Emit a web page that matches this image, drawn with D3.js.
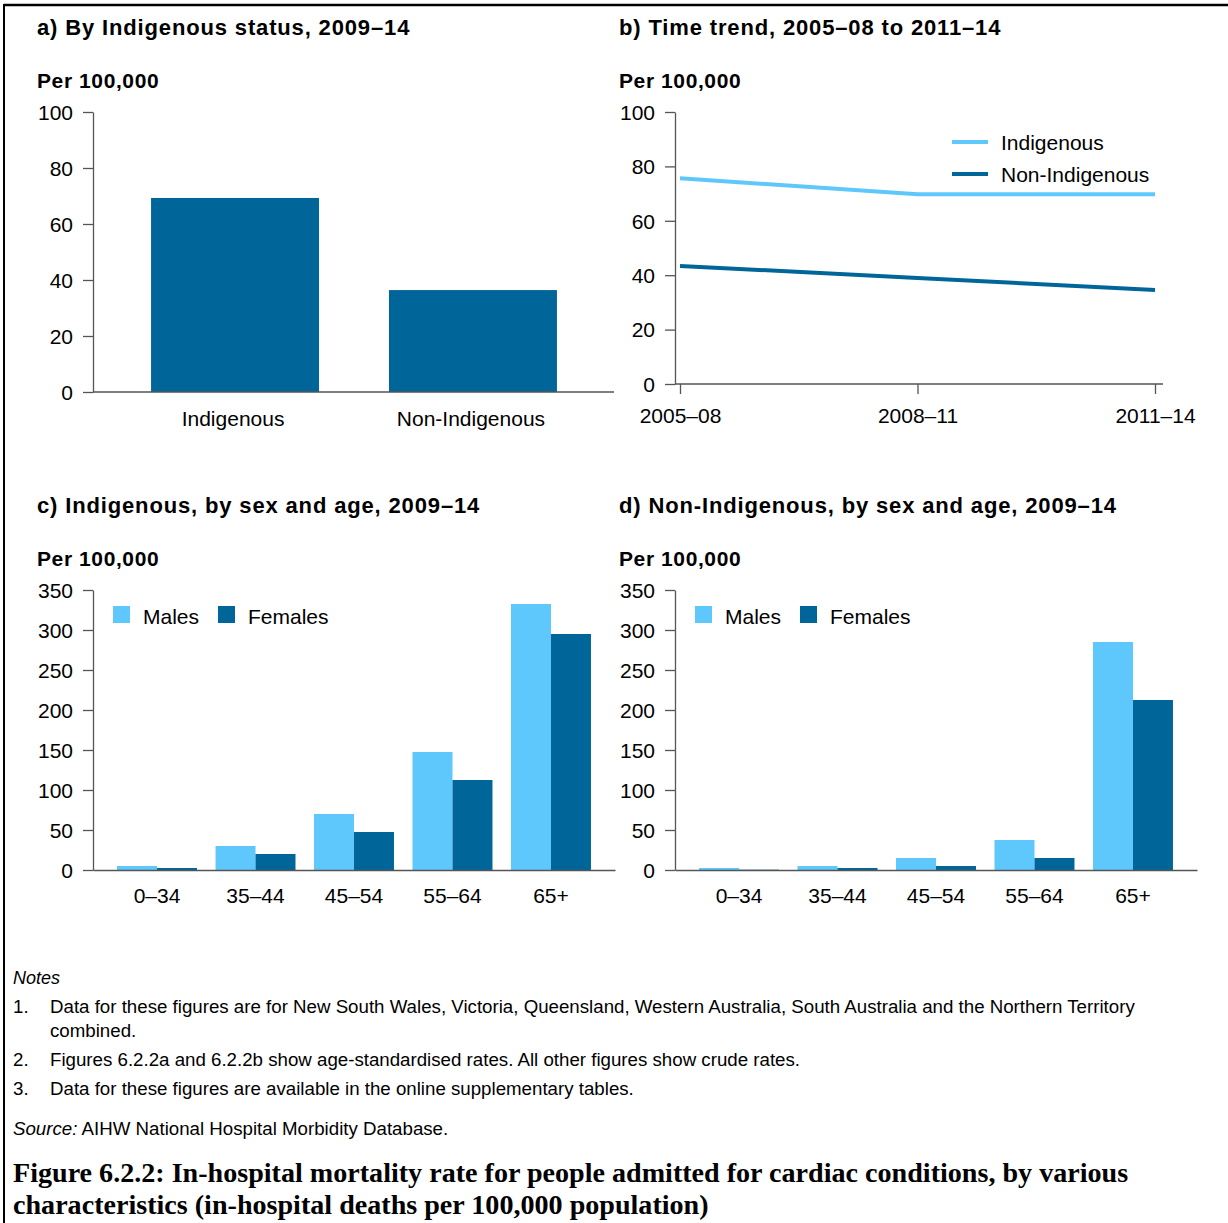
<!DOCTYPE html>
<html><head><meta charset="utf-8">
<script src="https://cdn.jsdelivr.net/npm/d3@7"></script>
<style>
body{margin:0;background:#fff;}
svg{display:block;font-family:"Liberation Sans",Arial,sans-serif;}
.tick text{font-size:21px;fill:#000;}
.domain,.tick line{stroke:#555;stroke-width:1.3;}
</style></head><body>
<svg id="c" width="1228" height="1223"></svg>
<script>
// ---- data ----
const statusCats = ["Indigenous", "Non-Indigenous"];
const statusValues = [69.3, 36.4];

const periods = ["2005–08", "2008–11", "2011–14"];
const trendIndigenous = [75.6, 69.8, 69.8];
const trendNonIndigenous = [43.4, 39.0, 34.6];

const ageGroups = ["0–34", "35–44", "45–54", "55–64", "65+"];
const sexes = ["Males", "Females"];
const indigMales = [5, 30, 70, 147.5, 332.5];
const indigFemales = [2.5, 20, 47.5, 112.5, 295];
const nonIndigMales = [2.5, 5, 15, 37.5, 285];
const nonIndigFemales = [0.4, 2.5, 5, 15, 212.5];

const ticks100 = [0, 20, 40, 60, 80, 100];
const ticks350 = [0, 50, 100, 150, 200, 250, 300, 350];

const titles = ["a) By Indigenous status, 2009–14", "b) Time trend, 2005–08 to 2011–14",
  "c) Indigenous, by sex and age, 2009–14", "d) Non-Indigenous, by sex and age, 2009–14"];
const yTitle = "Per 100,000";
const notes = [
  ["1.", "Data for these figures are for New South Wales, Victoria, Queensland, Western Australia, South Australia and the Northern Territory"],
  ["", "combined."],
  ["2.", "Figures 6.2.2a and 6.2.2b show age-standardised rates. All other figures show crude rates."],
  ["3.", "Data for these figures are available in the online supplementary tables."]
];
const caption = ["Figure 6.2.2: In-hospital mortality rate for people admitted for cardiac conditions, by various",
  "characteristics (in-hospital deaths per 100,000 population)"];

const LIGHT = "#5ec8fc", DARK = "#006699";

const svg = d3.select("#c");
// frame
svg.append("line").attr("x1",4).attr("x2",1228).attr("y1",5).attr("y2",5).attr("stroke","#000").attr("stroke-width",2.5);
svg.append("line").attr("x1",4).attr("x2",4).attr("y1",4).attr("y2",1223).attr("stroke","#000").attr("stroke-width",2);

function heading(x, y, t){
  svg.append("text").attr("x",x).attr("y",y).attr("font-size",22).attr("font-weight","bold")
    .attr("letter-spacing",0.85).text(t);
}
heading(37, 35, titles[0]); heading(619, 35, titles[1]);
heading(37, 513, titles[2]); heading(619, 513, titles[3]);
[[37,88],[619,88],[37,566],[619,566]].forEach(([x,y])=>
  svg.append("text").attr("x",x).attr("y",y).attr("font-size",21).attr("font-weight","bold").attr("letter-spacing",0.6).text(yTitle));

function yAxis(g, y, ticks){
  g.call(d3.axisLeft(y).tickValues(ticks).tickSize(10).tickPadding(10).tickSizeOuter(0));
  g.selectAll(".tick text").attr("dy","0.35em");
}

// ---- panel a ----
{
  const x = d3.scaleBand().domain(statusCats).range([93,615]).paddingInner(0.294).paddingOuter(0.244);
  const y = d3.scaleLinear().domain([0,100]).range([392,112]);
  const g = svg.append("g");
  g.selectAll("rect").data(statusValues).join("rect")
    .attr("x",(d,i)=>x(statusCats[i])).attr("width",x.bandwidth())
    .attr("y",d=>y(d)).attr("height",d=>y(0)-y(d)).attr("fill",DARK);
  yAxis(g.append("g").attr("transform","translate(93,0)"), y, ticks100);
  const xa = g.append("g").attr("transform","translate(0,392)")
    .call(d3.axisBottom(x).tickSize(0).tickPadding(19).tickSizeOuter(0));
  xa.select(".domain").attr("d","M93,0H614");
  xa.selectAll(".tick text").attr("dx",-2);
}

// ---- panel b ----
{
  const x = d3.scalePoint().domain(periods).range([680,1155]);
  const y = d3.scaleLinear().domain([0,100]).range([384,112]);
  const g = svg.append("g");
  yAxis(g.append("g").attr("transform","translate(675,0)"), y, ticks100);
  const xa = g.append("g").attr("transform","translate(0,384)")
    .call(d3.axisBottom(x).tickSize(10).tickPadding(14).tickSizeOuter(0));
  xa.select(".domain").attr("d","M675,0H1163");
  const line = d3.line().x((d,i)=>x(periods[i])).y(d=>y(d));
  g.append("path").datum(trendIndigenous).attr("d",line).attr("fill","none").attr("stroke",LIGHT).attr("stroke-width",4);
  g.append("path").datum(trendNonIndigenous).attr("d",line).attr("fill","none").attr("stroke",DARK).attr("stroke-width",4);
  const leg = [["Indigenous",LIGHT,142],["Non-Indigenous",DARK,174]];
  leg.forEach(([t,c,yy])=>{
    g.append("line").attr("x1",952).attr("x2",988).attr("y1",yy).attr("y2",yy).attr("stroke",c).attr("stroke-width",4);
    g.append("text").attr("x",1001).attr("y",yy+8).attr("font-size",21).text(t);
  });
}

// ---- panels c, d ----
function grouped(x0, x1, males, females, legX){
  const x = d3.scaleBand().domain(ageGroups).range([x0,x1]).paddingInner(0.188).paddingOuter(0.244);
  const xs = d3.scaleBand().domain(sexes).range([0,x.bandwidth()]);
  const y = d3.scaleLinear().domain([0,350]).range([870,590]);
  const g = svg.append("g");
  const rows = ageGroups.map((a,i)=>({a, v:[males[i],females[i]]}));
  g.selectAll("g.grp").data(rows).join("g").attr("class","grp")
    .attr("transform",d=>`translate(${x(d.a)},0)`)
    .selectAll("rect").data(d=>d.v.map((v,j)=>({s:sexes[j],v}))).join("rect")
    .attr("x",d=>xs(d.s)).attr("width",xs.bandwidth())
    .attr("y",d=>y(d.v)).attr("height",d=>y(0)-y(d.v))
    .attr("fill",d=>d.s==="Males"?LIGHT:DARK);
  yAxis(g.append("g").attr("transform",`translate(${x0},0)`), y, ticks350);
  const xa = g.append("g").attr("transform","translate(0,870)")
    .call(d3.axisBottom(x).tickSize(0).tickPadding(18).tickSizeOuter(0));
  xa.select(".domain").attr("stroke","#000");
  // legend
  [["Males",LIGHT,0],["Females",DARK,105]].forEach(([t,c,dx])=>{
    g.append("rect").attr("x",legX+dx).attr("y",606).attr("width",17).attr("height",17).attr("fill",c);
    g.append("text").attr("x",legX+dx+30).attr("y",624).attr("font-size",21).text(t);
  });
}
grouped(93, 615, indigMales, indigFemales, 113);
grouped(675, 1197, nonIndigMales, nonIndigFemales, 695);

// ---- notes ----
svg.append("text").attr("x",13).attr("y",984).attr("font-size",18).attr("font-style","italic").text("Notes");
const noteY = [1013, 1037, 1066, 1095];
notes.forEach(([n,t],i)=>{
  svg.append("text").attr("x",13).attr("y",noteY[i]).attr("font-size",18.7).text(n);
  svg.append("text").attr("x",50).attr("y",noteY[i]).attr("font-size",18.7).text(t);
});
const src = svg.append("text").attr("x",13).attr("y",1135).attr("font-size",18.7);
src.append("tspan").attr("font-style","italic").text("Source:");
src.append("tspan").text(" AIHW National Hospital Morbidity Database.");

caption.forEach((t,i)=>svg.append("text").attr("x",13).attr("y",1182+i*32)
  .attr("font-family","'Liberation Serif','Times New Roman',serif").attr("font-weight","bold")
  .attr("font-size",28.1).text(t));
</script></body></html>
